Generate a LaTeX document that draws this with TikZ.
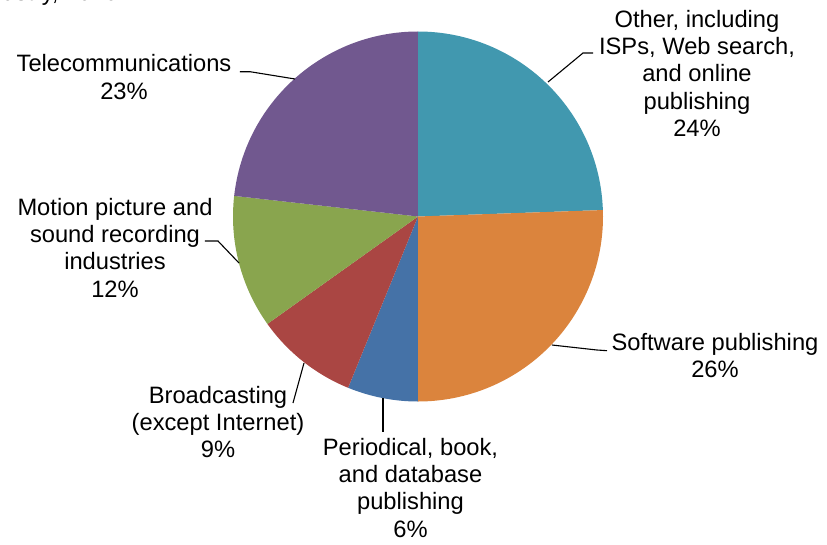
\documentclass[tikz,border=0pt]{standalone}
\usepackage{fontspec}
\setmainfont{Liberation Sans}
\usetikzlibrary{calc}

\definecolor{other}{HTML}{4198AF}
\definecolor{soft}{HTML}{DB843D}
\definecolor{peri}{HTML}{4572A7}
\definecolor{broad}{HTML}{AA4643}
\definecolor{motion}{HTML}{89A54E}
\definecolor{tele}{HTML}{71588F}

\tikzset{
  lbl/.style={align=center,anchor=north,inner sep=0pt,font=\fontsize{23.7}{27.3}\selectfont},
  leader/.style={black,line width=1.1pt}
}

\begin{document}
\begin{tikzpicture}[x=1pt,y=1pt]

\useasboundingbox (-418,216.5) rectangle (409,-327.5);

\coordinate (O) at (0,0);

% slices, clockwise from the top
\fill[other] (O)--(90:185) arc[start angle=90,end angle=2,radius=185]--cycle;
\fill[soft] (O)--(2:185) arc[start angle=2,end angle=-90,radius=185]--cycle;
\fill[peri] (O)--(-90:185) arc[start angle=-90,end angle=-112.2,radius=185]--cycle;
\fill[broad] (O)--(-112.2:185) arc[start angle=-112.2,end angle=-144.5,radius=185]--cycle;
\fill[motion] (O)--(-144.5:185) arc[start angle=-144.5,end angle=-186.4,radius=185]--cycle;
\fill[tele] (O)--(-186.4:185) arc[start angle=-186.4,end angle=-270,radius=185]--cycle;

% labels
\node[lbl] (Lother) at (279,206.7) {Other, including\\ISPs, Web search,\\and online\\publishing\\24\%};
\node[lbl] (Lsoft) at (297,-116.3) {Software publishing\\26\%};
\node[lbl] (Lperi) at (-7.5,-221.3) {Periodical, book,\\and database\\publishing\\6\%};
\node[lbl] (Lbroad) at (-200,-169.3) {Broadcasting\\(except Internet)\\9\%};
\node[lbl] (Lmotion) at (-303,18.7) {Motion picture and\\sound recording\\industries\\12\%};
\node[lbl] (Ltele) at (-294,162) {Telecommunications\\23\%};

% title, cut by the top edge
\node[anchor=base east,inner sep=0pt,font=\fontsize{23.7}{27.3}\selectfont] (title) at (-300,215.5) {Industry, 2010};

% leader lines
\coordinate (Pother) at (130,134.5);
\coordinate (Bother) at (165,163.5);
\coordinate (Eother) at (175,163.5);
\draw[leader] (Pother)--(Bother)--(Eother);

\coordinate (Psoft) at (134,-128.5);
\coordinate (Bsoft) at (179,-133.5);
\coordinate (Esoft) at (189,-134.2);
\draw[leader] (Psoft)--(Bsoft)--(Esoft);

\coordinate (Pperi) at (-35,-181.5);
\coordinate (Eperi) at (-35,-215.5);
\draw[leader] (Pperi)--(Eperi);

\coordinate (Pbroad) at (-114,-146.5);
\coordinate (Ebroad) at (-125,-186.5);
\draw[leader] (Pbroad)--(Ebroad);

\coordinate (Pmotion) at (-179,-46.5);
\coordinate (Bmotion) at (-200,-24.5);
\coordinate (Emotion) at (-213,-24.5);
\draw[leader] (Pmotion)--(Bmotion)--(Emotion);

\coordinate (Ptele) at (-123,137.5);
\coordinate (Btele) at (-168,144.8);
\coordinate (Etele) at (-178,144.8);
\draw[leader] (Ptele)--(Btele)--(Etele);

\end{tikzpicture}
\end{document}
